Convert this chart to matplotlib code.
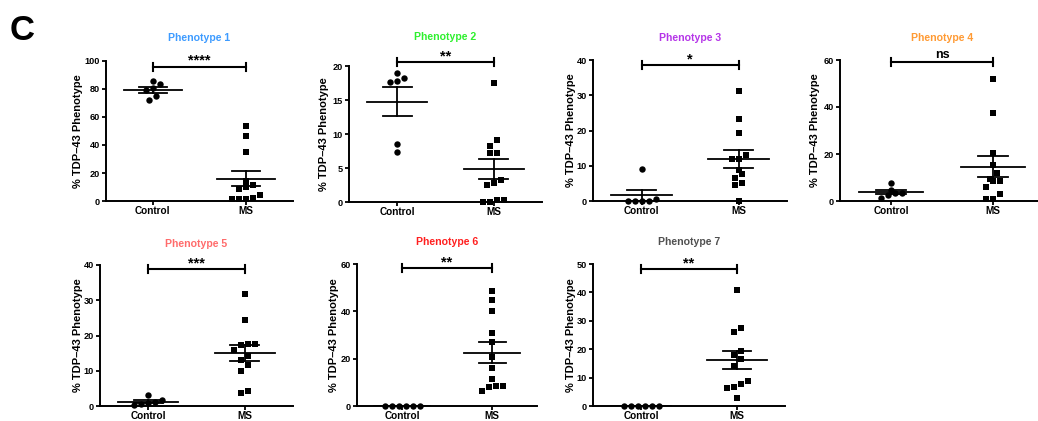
import numpy as np
from matplotlib import pyplot as plt

plt.rcParams['font.family'] = ['Liberation Sans', 'DejaVu Sans']
plt.rcParams['font.weight'] = 'bold'

groups = ["Control", "MS"]
titles = ["Phenotype 1", "Phenotype 2", "Phenotype 3", "Phenotype 4",
          "Phenotype 5", "Phenotype 6", "Phenotype 7"]
title_colors = ["#3d9bff", "#2ef02e", "#b535e8", "#ff9a33",
                "#ff6b6b", "#ff1f1f", "#505050"]

# % TDP-43 phenotype per subject
p1_ctrl = [83.6, 86.0, 81.0, 79.0, 75.0, 72.0]
p1_ms = [53.8, 46.4, 35.2, 14.5, 11.4, 10.0, 8.6, 4.3, 1.9, 1.2, 1.2, 1.2]
p2_ctrl = [18.9, 17.8, 17.7, 18.2, 7.4, 8.5]
p2_ms = [17.5, 9.1, 8.3, 7.2, 7.2, 3.2, 2.8, 2.5, 0.35, 0.35, 0.0, 0.0]
p3_ctrl = [9.0, 0.7, 0.0, 0.0, 0.0, 0.0]
p3_ms = [31.3, 23.4, 19.4, 13.0, 12.0, 11.8, 8.8, 7.7, 6.4, 5.0, 4.4, 0.0]
p4_ctrl = [7.8, 4.7, 3.5, 3.2, 2.5, 1.2]
p4_ms = [51.9, 37.3, 20.3, 15.3, 12.0, 9.2, 8.6, 8.6, 6.1, 3.0, 0.7, 0.7]
p5_ctrl = [3.0, 1.8, 1.2, 0.8, 0.5, 0.3]
p5_ms = [31.9, 24.4, 17.5, 17.5, 17.2, 15.8, 14.2, 13.0, 11.7, 9.8, 4.2, 3.7]
p6_ctrl = [0.0, 0.0, 0.0, 0.0, 0.0, 0.0]
p6_ms = [48.5, 45.0, 40.1, 31.0, 27.1, 20.6, 15.9, 11.2, 8.4, 8.4, 8.0, 6.3]
p7_ctrl = [0.0, 0.0, 0.0, 0.0, 0.0, 0.0]
p7_ms = [41.0, 27.5, 26.2, 19.5, 18.0, 16.5, 14.2, 8.9, 7.6, 6.8, 6.5, 2.9]

ctrl_data = [p1_ctrl, p2_ctrl, p3_ctrl, p4_ctrl, p5_ctrl, p6_ctrl, p7_ctrl]
ms_data = [p1_ms, p2_ms, p3_ms, p4_ms, p5_ms, p6_ms, p7_ms]

y_max = [100, 20, 40, 60, 40, 60, 50]
y_step = [20, 5, 10, 20, 10, 20, 10]
sig_text = ["****", "**", "*", "ns", "***", "**", "**"]
sig_y = [96, 20.6, 38.5, 59.3, 38.8, 58.3, 48.2]

# layout in pixels: left, right, top, bottom of each plot area
W, H = 1038, 421
boxes = [(106, 293, 61, 201), (349, 542, 66, 202), (593, 787, 60, 201),
         (840, 1044, 60, 201), (100, 293, 265, 406), (357, 537, 264, 406),
         (593, 785, 264, 406)]
title_y = [38, 37, 38, 38, 244, 242, 242]
ylab_off = [28, 25, 22, 25, 22, 23, 22]


def swarm(values, center, ppu_x, ppu_y, size_px=7.0):
    # prism-like: points closer than one marker in y share a row, centred
    v = np.asarray(values, float)
    order = np.argsort(v)
    sv = v[order]
    xs = np.empty(len(sv))
    i = 0
    while i < len(sv):
        j = i
        while j + 1 < len(sv) and (sv[j + 1] - sv[i]) * ppu_y < size_px:
            j += 1
        n = j - i + 1
        for k in range(n):
            xs[i + k] = center + (k - (n - 1) / 2) * size_px / ppu_x
        i = j + 1
    out = np.empty(len(sv))
    out[order] = xs
    return out


def mean_sem(ax, vals, pos):
    vals = np.asarray(vals, float)
    m = vals.mean()
    s = vals.std(ddof=1) / np.sqrt(len(vals))
    ax.plot([pos - 0.31, pos + 0.31], [m, m], color='k', lw=1.3, zorder=4)
    ax.plot([pos - 0.15, pos + 0.15], [m + s, m + s], color='k', lw=1.3, zorder=4)
    ax.plot([pos - 0.15, pos + 0.15], [m - s, m - s], color='k', lw=1.3, zorder=4)
    ax.plot([pos, pos], [m - s, m + s], color='k', lw=1.3, zorder=4)


fig = plt.figure(figsize=(W / 100, H / 100), dpi=100)
fig.text(10 / W, 1 - 30 / H, "C", fontsize=25, fontweight='bold', va='center', ha='left')

for i in range(7):
    L, R, T, B = boxes[i]
    ax = fig.add_axes([L / W, 1 - B / H, (R - L) / W, (B - T) / H])
    ax.set_xlim(0.5, 2.5)
    ax.set_ylim(0, y_max[i])
    ppu_x = (R - L) / 2.0
    ppu_y = (B - T) / y_max[i]

    xc = swarm(ctrl_data[i], 1, ppu_x, ppu_y)
    xm = swarm(ms_data[i], 2, ppu_x, ppu_y)
    ax.plot(xc, ctrl_data[i], 'o', color='k', ms=4.6, mew=0, clip_on=False, zorder=3)
    ax.plot(xm, ms_data[i], 's', color='k', ms=4.4, mew=0, clip_on=False, zorder=3)
    mean_sem(ax, ctrl_data[i], 1)
    mean_sem(ax, ms_data[i], 2)

    # significance bracket
    tick = 4.0 / ppu_y
    ax.plot([1, 2], [sig_y[i], sig_y[i]], color='k', lw=1.5, clip_on=False)
    ax.plot([1, 1], [sig_y[i] - tick, sig_y[i] + tick], color='k', lw=1.5, clip_on=False)
    ax.plot([2, 2], [sig_y[i] - tick, sig_y[i] + tick], color='k', lw=1.5, clip_on=False)
    if sig_text[i] == "ns":
        ax.annotate("ns", (1.5, sig_y[i]), xytext=(0, 0.8), textcoords='offset points',
                    ha='center', va='bottom', fontsize=9, annotation_clip=False)
    else:
        ax.annotate(sig_text[i], (1.5, sig_y[i]), xytext=(0, 1.2), textcoords='offset points',
                    ha='center', va='baseline', fontsize=10.5, annotation_clip=False)

    ax.set_yticks(np.arange(0, y_max[i] + 1, y_step[i]))
    ax.set_xticks([1, 2])
    ax.set_xticklabels(groups, fontsize=7.2)
    ax.tick_params(axis='y', labelsize=6.6, length=3, width=1.3, pad=1.5)
    ax.tick_params(axis='x', length=3, width=1.3, pad=0.8)
    for sp in ['top', 'right']:
        ax.spines[sp].set_visible(False)
    for sp in ['left', 'bottom']:
        ax.spines[sp].set_linewidth(1.4)

    ax.set_ylabel("% TDP\u201343 Phenotype", fontsize=8, fontweight='bold')
    ax.yaxis.label.set_va('center')
    ax.yaxis.set_label_coords(-ylab_off[i] / (R - L), 0.5)

    fig.text((L + R) / 2 / W, 1 - title_y[i] / H, titles[i], color=title_colors[i],
             fontsize=7.6, fontweight='bold', ha='center', va='center')

fig.savefig("out.png", dpi=100)
